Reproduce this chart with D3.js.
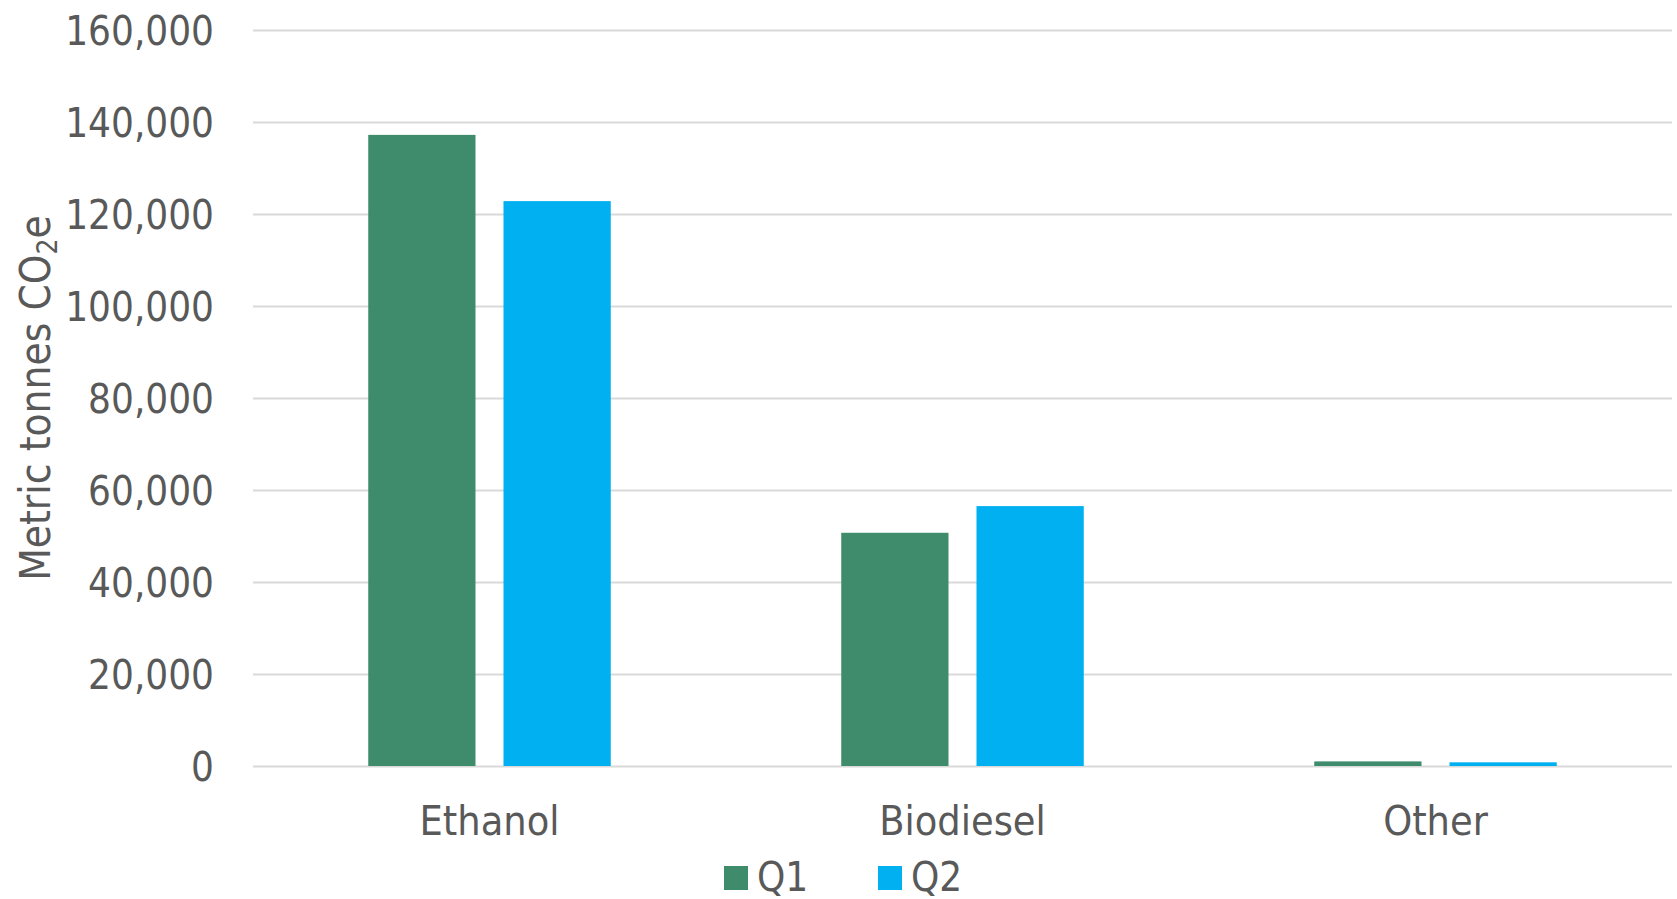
<!DOCTYPE html>
<html lang="en"><head>
<meta charset="utf-8">
<title>Metric tonnes CO2e by fuel</title>
<script src="https://cdn.jsdelivr.net/npm/d3@7"></script>
<style>
  body { margin: 0; background: #fff; }
  text { font-family: "DejaVu Sans Condensed", "DejaVu Sans", sans-serif; fill: #595959; }
  .grid line { stroke: #d9d9d9; stroke-width: 2; }
  .grid path { display: none; }
</style>
</head>
<body>
<script>
var categories = ["Ethanol", "Biodiesel", "Other"];
var series = ["Q1", "Q2"];
var q1 = [137200, 50700, 1000];
var q2 = [122800, 56500, 800];
var yTicks = [0, 20000, 40000, 60000, 80000, 100000, 120000, 140000, 160000];
var colors = ["#3e8c6c", "#00b0f0"];

var width = 1677, height = 899;
var padding = {top: 30, bottom: 133, left: 253, right: 5};

var svg = d3.select("body").append("svg").attr("width", width).attr("height", height);

var rows = categories.map(function(c, i) { return {cat: c, values: [q1[i], q2[i]]}; });

var x0 = d3.scaleBand().domain(categories).range([padding.left, width - padding.right]);
var x1 = d3.scaleBand().domain(series).range([0, x0.bandwidth()]).paddingInner(0.207).paddingOuter(0.852);
var y = d3.scaleLinear().domain([0, 160000]).range([height - padding.bottom, padding.top]);

// gridlines + tick labels
var gY = svg.append("g").attr("class", "grid").attr("transform", "translate(" + padding.left + ",0)")
  .call(d3.axisLeft(y).tickValues(yTicks).tickFormat(d3.format(",")).tickSize(-(width - padding.left - padding.right)).tickPadding(39));
gY.selectAll("text").attr("font-size", "40px").attr("fill", "#595959").attr("dy", "0.36em");

// bars
var g = svg.append("g").selectAll("g").data(rows).enter().append("g")
  .attr("transform", function(d) { return "translate(" + x0(d.cat) + ",0)"; });
g.selectAll("rect").data(function(d) { return d.values; }).enter().append("rect")
  .attr("x", function(d, i) { return x1(series[i]); })
  .attr("y", function(d) { return y(d); })
  .attr("width", x1.bandwidth())
  .attr("height", function(d) { return y(0) - y(d); })
  .attr("fill", function(d, i) { return colors[i]; });

// category labels
svg.append("g").selectAll("text").data(categories).enter().append("text")
  .attr("x", function(d) { return x0(d) + x0.bandwidth() / 2; })
  .attr("y", 835).attr("text-anchor", "middle").attr("font-size", "41px").text(function(d) { return d; });

// y title
var t = svg.append("text").attr("transform", "translate(50," + ((y(0) + y(160000)) / 2) + ") rotate(-90)")
  .attr("text-anchor", "middle").attr("font-size", "42px");
t.append("tspan").text("Metric tonnes CO");
t.append("tspan").attr("font-size", "28px").attr("dy", "7").text("2");
t.append("tspan").attr("dy", "-7").text("e");

// legend
var leg = svg.append("g").selectAll("g").data(series).enter().append("g")
  .attr("transform", function(d, i) { return "translate(" + (724 + i * 154) + ",866)"; });
leg.append("rect").attr("width", 24).attr("height", 24).attr("fill", function(d, i) { return colors[i]; });
leg.append("text").attr("x", 33).attr("y", 25).attr("font-size", "40px").text(function(d) { return d; });
</script>
</body>
</html>
